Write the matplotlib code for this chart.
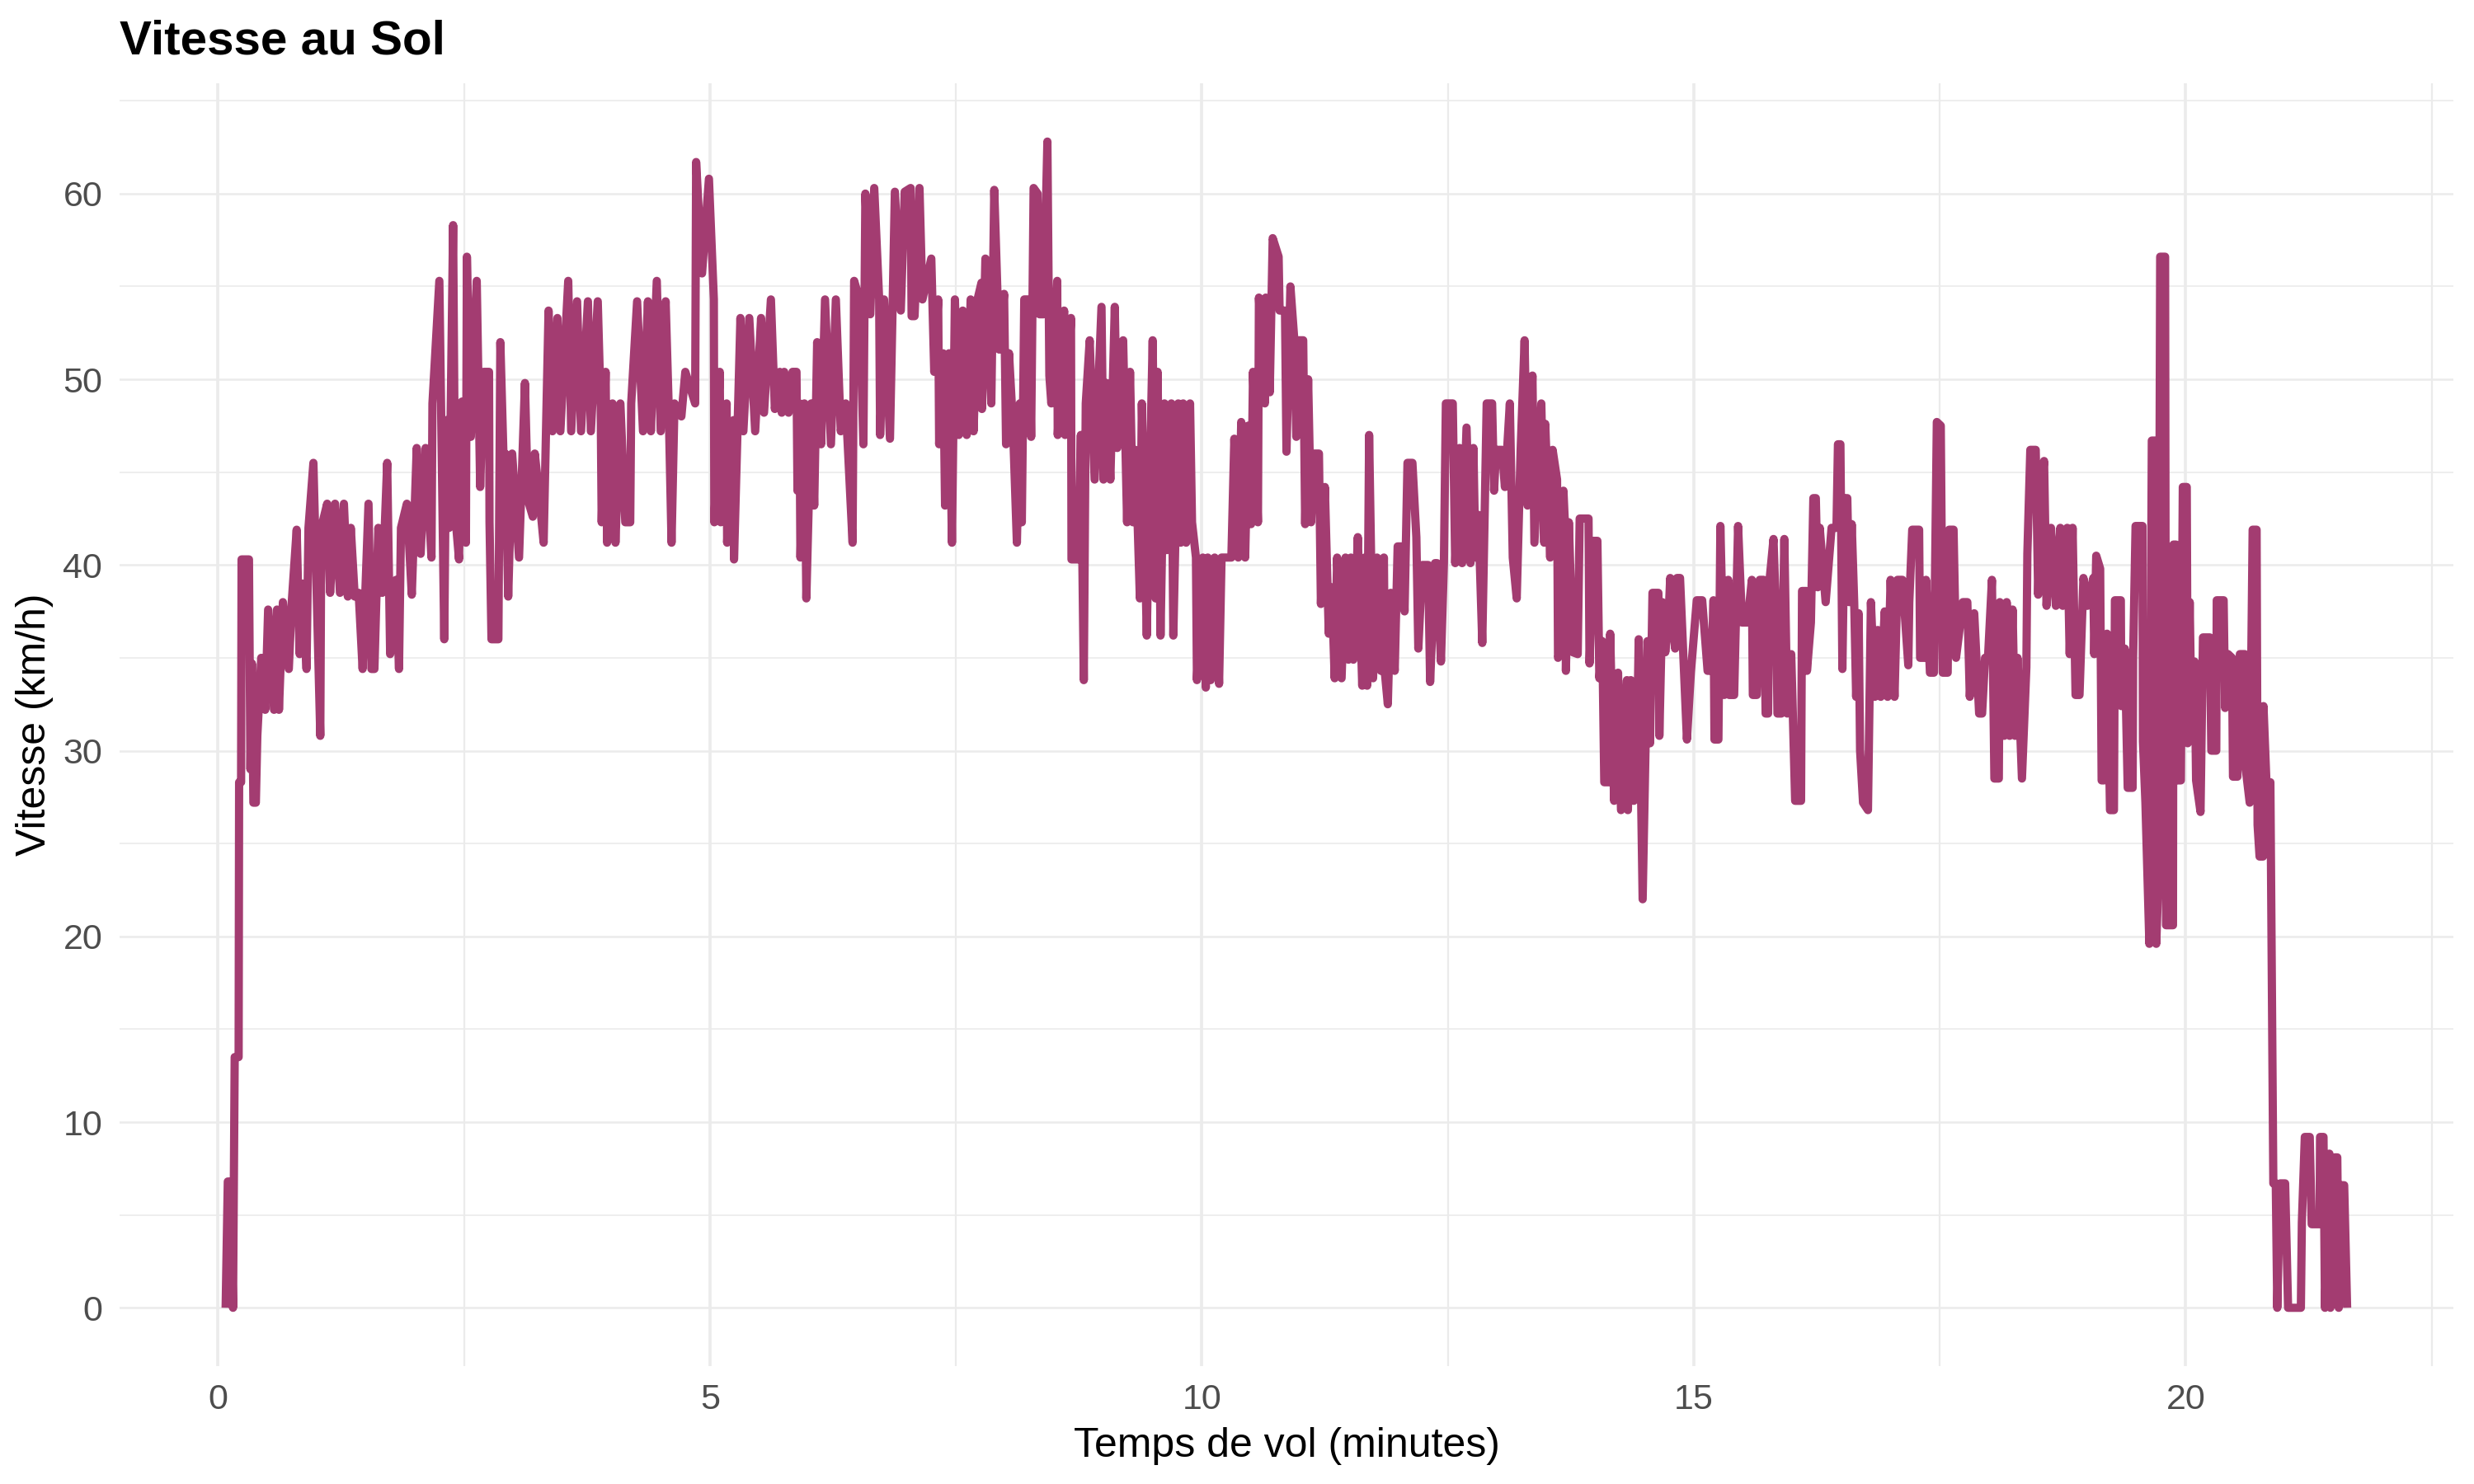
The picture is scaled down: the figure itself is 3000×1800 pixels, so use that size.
import matplotlib
matplotlib.use("Agg")
import matplotlib.pyplot as plt
from matplotlib.ticker import MultipleLocator

plt.rcParams["font.family"] = ["Liberation Sans", "DejaVu Sans"]

# temps de vol (minutes) / vitesse au sol (km/h)
temps = [
    0.078, 0.10, 0.128, 0.153, 0.17, 0.21, 0.215, 0.235, 0.24, 0.315, 0.33, 0.345, 0.36, 0.385,
    0.40, 0.44, 0.48, 0.51, 0.57, 0.60, 0.62, 0.66, 0.72, 0.75, 0.80, 0.83, 0.86, 0.90, 0.92,
    0.97, 1.04, 1.05, 1.11, 1.14, 1.19, 1.24, 1.28, 1.32, 1.35, 1.39, 1.43, 1.47, 1.53, 1.56,
    1.59, 1.63, 1.67, 1.72, 1.75, 1.81, 1.84, 1.86, 1.92, 1.97, 2.02, 2.06, 2.11, 2.17, 2.18,
    2.25, 2.30, 2.32, 2.35, 2.39, 2.41, 2.45, 2.48, 2.52, 2.53, 2.57, 2.63, 2.665, 2.70, 2.755,
    2.76, 2.78, 2.85, 2.87, 2.91, 2.92, 2.95, 2.99, 3.06, 3.12, 3.15, 3.20, 3.22, 3.26, 3.31,
    3.36, 3.40, 3.45, 3.48, 3.56, 3.59, 3.65, 3.69, 3.76, 3.79, 3.86, 3.89, 3.90, 3.94, 3.955,
    4.01, 4.04, 4.09, 4.14, 4.19, 4.20, 4.26, 4.32, 4.37, 4.40, 4.46, 4.50, 4.55, 4.58, 4.61,
    4.64, 4.71, 4.75, 4.85, 4.86, 4.92, 4.99, 5.04, 5.045, 5.10, 5.11, 5.17, 5.175, 5.24, 5.245,
    5.28, 5.31, 5.34, 5.40, 5.46, 5.52, 5.55, 5.62, 5.66, 5.71, 5.73, 5.755, 5.80, 5.84, 5.88,
    5.89, 5.91, 5.92, 5.96, 5.98, 6.03, 6.06, 6.09, 6.13, 6.17, 6.23, 6.28, 6.33, 6.38, 6.45,
    6.466, 6.52, 6.56, 6.58, 6.63, 6.67, 6.72, 6.73, 6.77, 6.83, 6.88, 6.94, 6.98, 7.04, 7.05,
    7.08, 7.13, 7.16, 7.25, 7.28, 7.32, 7.33, 7.37, 7.39, 7.43, 7.46, 7.49, 7.53, 7.57, 7.61,
    7.65, 7.68, 7.72, 7.76, 7.765, 7.80, 7.86, 7.89, 7.94, 7.99, 8.01, 8.04, 8.08, 8.12, 8.15,
    8.17, 8.195, 8.24, 8.265, 8.29, 8.33, 8.35, 8.39, 8.43, 8.45, 8.47, 8.53, 8.535, 8.60, 8.61,
    8.67, 8.675, 8.74, 8.77, 8.80, 8.82, 8.86, 8.91, 8.98, 9.00, 9.03, 9.07, 9.115, 9.14, 9.20,
    9.24, 9.27, 9.30, 9.325, 9.37, 9.39, 9.44, 9.46, 9.50, 9.53, 9.55, 9.58, 9.62, 9.645, 9.69,
    9.71, 9.76, 9.785, 9.81, 9.84, 9.88, 9.90, 9.94, 9.95, 10.01, 10.04, 10.06, 10.09, 10.13, 10.175,
    10.20, 10.30, 10.33, 10.37, 10.40, 10.44, 10.47, 10.50, 10.52, 10.57, 10.58, 10.64, 10.65, 10.69, 10.72,
    10.78, 10.79, 10.845, 10.86, 10.90, 10.94, 10.96, 10.985, 11.03, 11.05, 11.08, 11.11, 11.14, 11.19, 11.21,
    11.25, 11.29, 11.32, 11.35, 11.375, 11.42, 11.46, 11.49, 11.515, 11.54, 11.585, 11.63, 11.655, 11.68, 11.70,
    11.74, 11.78, 11.82, 11.85, 11.86, 11.89, 11.92, 11.96, 11.99, 12.04, 12.06, 12.09, 12.14, 12.18, 12.20,
    12.24, 12.30, 12.32, 12.37, 12.39, 12.43, 12.46, 12.48, 12.55, 12.575, 12.62, 12.645, 12.69, 12.73, 12.76,
    12.78, 12.81, 12.85, 12.895, 12.95, 12.97, 12.99, 13.05, 13.08, 13.13, 13.16, 13.20, 13.24, 13.28, 13.31,
    13.36, 13.38, 13.45, 13.48, 13.49, 13.54, 13.565, 13.61, 13.62, 13.65, 13.675, 13.69, 13.70, 13.73, 13.77,
    13.82, 13.84, 13.93, 13.94, 13.98, 14.02, 14.04, 14.07, 14.09, 14.14, 14.15, 14.19, 14.23, 14.26, 14.32,
    14.33, 14.36, 14.39, 14.415, 14.44, 14.48, 14.53, 14.555, 14.58, 14.64, 14.65, 14.68, 14.71, 14.74, 14.76,
    14.81, 14.83, 14.86, 14.93, 14.97, 15.03, 15.085, 15.14, 15.18, 15.20, 15.21, 15.25, 15.27, 15.31, 15.35,
    15.36, 15.41, 15.45, 15.49, 15.545, 15.59, 15.60, 15.64, 15.67, 15.71, 15.73, 15.755, 15.77, 15.81, 15.84,
    15.85, 15.89, 15.92, 15.95, 15.99, 16.03, 16.09, 16.10, 16.145, 16.15, 16.19, 16.215, 16.24, 16.26, 16.28,
    16.34, 16.40, 16.45, 16.465, 16.49, 16.51, 16.535, 16.56, 16.58, 16.605, 16.63, 16.65, 16.675, 16.69, 16.72,
    16.77, 16.80, 16.84, 16.87, 16.90, 16.94, 16.97, 17.00, 17.04, 17.07, 17.12, 17.18, 17.19, 17.22, 17.29,
    17.30, 17.345, 17.36, 17.40, 17.44, 17.47, 17.51, 17.53, 17.58, 17.595, 17.64, 17.665, 17.735, 17.78, 17.805,
    17.85, 17.90, 17.93, 17.96, 17.99, 18.03, 18.055, 18.10, 18.11, 18.155, 18.18, 18.21, 18.24, 18.265, 18.29,
    18.335, 18.38, 18.39, 18.42, 18.475, 18.50, 18.53, 18.56, 18.585, 18.63, 18.68, 18.725, 18.75, 18.795, 18.82,
    18.85, 18.88, 18.92, 18.96, 19.00, 19.06, 19.07, 19.09, 19.13, 19.145, 19.17, 19.20, 19.23, 19.27, 19.28,
    19.34, 19.345, 19.38, 19.41, 19.46, 19.465, 19.49, 19.56, 19.565, 19.59, 19.63, 19.655, 19.685, 19.70, 19.72,
    19.74, 19.79, 19.80, 19.87, 19.875, 19.90, 19.91, 19.95, 19.97, 20.01, 20.02, 20.04, 20.06, 20.09, 20.105,
    20.15, 20.175, 20.245, 20.26, 20.31, 20.315, 20.385, 20.40, 20.43, 20.47, 20.48, 20.525, 20.54, 20.55, 20.60,
    20.61, 20.65, 20.68, 20.72, 20.73, 20.75, 20.785, 20.79, 20.82, 20.86, 20.89, 20.915, 20.93, 20.96, 21.01,
    21.04, 21.17, 21.18, 21.21, 21.26, 21.28, 21.36, 21.365, 21.40, 21.415, 21.46, 21.47, 21.515, 21.54, 21.555,
    21.58, 21.61, 21.64,
]
vitesse = [
    0, 6.8, 6.8, 0, 13.5, 13.5, 28.3, 28.3, 40.3, 40.3, 29.0, 34.7, 27.2, 27.2,
    30.8, 35.0, 32.2, 37.6, 32.2, 37.6, 32.2, 38.0, 34.4, 38.0, 41.9, 35.2, 39.0, 34.4, 42.0,
    45.5, 30.8, 42.0, 43.3, 38.5, 43.3, 38.5, 43.3, 38.3, 42.0, 38.3, 38.5, 34.4, 43.3, 34.4,
    34.4, 42.0, 38.5, 45.5, 35.2, 39.2, 34.4, 42.0, 43.3, 38.4, 46.3, 40.6, 46.3, 40.4, 48.7,
    55.3, 36.0, 47.8, 42.0, 58.3, 42.8, 40.3, 48.8, 41.2, 56.6, 46.9, 55.3, 44.2, 50.4, 50.4,
    42.3, 36.0, 36.0, 52.0, 44.3, 46.0, 38.3, 46.0, 40.4, 49.8, 43.5, 42.6, 46.0, 44.0, 41.2,
    53.7, 47.2, 53.3, 47.2, 55.3, 47.2, 54.2, 47.2, 54.2, 47.2, 54.2, 48.5, 42.3, 50.4, 41.2,
    48.7, 41.2, 48.7, 42.3, 42.3, 48.7, 54.2, 47.2, 54.2, 47.2, 55.3, 47.2, 54.2, 48.7, 41.2,
    48.7, 48.0, 50.4, 48.7, 61.7, 55.7, 60.8, 54.3, 42.3, 50.4, 42.3, 48.7, 41.2, 47.8, 40.3,
    47.2, 53.3, 47.2, 53.3, 47.2, 53.3, 48.2, 54.3, 48.4, 50.4, 48.2, 50.4, 48.2, 50.4, 50.4,
    44.0, 48.7, 40.4, 48.7, 38.2, 48.7, 43.2, 52.0, 46.5, 54.3, 46.5, 54.3, 47.2, 48.7, 41.2,
    55.3, 54.3, 46.5, 60.0, 53.5, 60.3, 54.3, 47.0, 54.3, 46.8, 60.1, 53.7, 60.1, 60.3, 53.4,
    53.4, 60.3, 54.3, 56.5, 50.4, 54.3, 46.5, 51.4, 43.2, 51.4, 41.2, 54.3, 47.0, 53.7, 47.0,
    54.3, 47.2, 54.3, 55.2, 48.4, 56.5, 48.7, 60.2, 51.6, 54.6, 46.5, 51.4, 47.5, 41.2, 48.7,
    42.3, 54.3, 54.3, 46.9, 60.3, 60.0, 53.5, 53.5, 62.8, 50.2, 48.7, 55.3, 47.0, 53.7, 47.0,
    53.3, 40.3, 40.3, 47.0, 33.8, 48.7, 52.1, 44.6, 53.9, 44.6, 49.8, 44.6, 53.9, 46.3, 52.1,
    42.3, 50.4, 42.3, 46.2, 38.2, 48.7, 36.2, 42.0, 52.1, 38.2, 50.4, 36.2, 48.7, 40.8, 48.7,
    36.2, 48.7, 41.2, 48.7, 41.2, 48.7, 42.3, 40.4, 33.8, 40.4, 33.4, 40.4, 33.8, 40.4, 33.6,
    40.4, 40.4, 46.8, 40.4, 47.7, 40.4, 47.5, 42.2, 50.4, 42.3, 54.4, 48.7, 54.4, 49.3, 57.6,
    56.6, 53.7, 53.7, 46.1, 55.0, 52.1, 46.9, 52.1, 52.1, 42.2, 50.0, 42.3, 46.0, 46.0, 37.9,
    44.2, 36.3, 38.8, 33.9, 40.4, 33.9, 40.4, 34.9, 40.4, 34.9, 41.5, 33.5, 40.4, 33.5, 47.0,
    33.9, 40.4, 34.3, 40.4, 34.2, 32.5, 38.5, 34.3, 41.0, 41.0, 37.5, 45.5, 45.5, 41.5, 35.5,
    40.0, 40.0, 33.7, 40.1, 40.1, 34.8, 40.1, 48.7, 48.7, 40.1, 46.3, 40.1, 47.4, 40.1, 46.3,
    40.4, 42.7, 35.8, 48.7, 48.7, 44.0, 46.2, 46.2, 44.2, 48.7, 40.4, 38.2, 46.2, 52.1, 43.2,
    50.2, 41.2, 48.7, 41.2, 47.6, 40.4, 46.2, 44.6, 35.0, 35.5, 44.0, 42.2, 34.3, 42.3, 35.3,
    35.2, 42.5, 42.5, 34.7, 41.3, 41.3, 33.9, 35.9, 28.3, 28.3, 36.3, 27.3, 34.2, 26.8, 33.8,
    26.8, 33.8, 27.3, 28.0, 36.0, 22.0, 35.9, 30.4, 38.5, 38.5, 30.8, 38.0, 35.3, 36.8, 39.3,
    35.5, 39.3, 39.3, 30.6, 34.2, 38.1, 38.1, 34.3, 34.3, 38.1, 30.6, 30.6, 42.1, 33.0, 39.2,
    33.0, 33.0, 42.1, 36.9, 36.9, 39.2, 33.0, 33.0, 39.2, 39.2, 32.0, 32.0, 39.2, 41.4, 36.6,
    32.0, 32.0, 41.4, 32.0, 35.2, 27.3, 27.3, 38.6, 38.6, 34.3, 36.9, 43.6, 43.6, 38.8, 42.0,
    38.0, 42.0, 42.0, 46.5, 46.5, 34.4, 43.6, 43.6, 38.0, 42.2, 38.0, 32.9, 37.4, 30.0, 27.2,
    26.8, 38.0, 32.9, 36.5, 32.9, 37.5, 32.9, 39.2, 32.9, 39.2, 39.2, 34.6, 38.0, 41.9, 41.9,
    35.0, 35.0, 39.2, 34.2, 34.2, 47.7, 47.5, 34.2, 34.2, 41.9, 41.9, 35.0, 38.0, 38.0, 32.9,
    37.4, 32.0, 32.0, 35.0, 35.0, 39.2, 28.5, 28.5, 38.0, 30.8, 38.0, 30.8, 37.6, 30.8, 35.0,
    28.5, 34.5, 40.6, 46.2, 46.2, 38.4, 44.0, 45.6, 37.8, 42.0, 37.8, 42.0, 37.8, 42.0, 35.2,
    42.0, 33.0, 33.0, 39.3, 37.8, 39.3, 35.2, 40.5, 39.8, 28.4, 28.4, 36.3, 26.8, 26.8, 38.1,
    38.1, 32.4, 35.5, 28.0, 28.0, 35.0, 42.1, 42.1, 30.5, 27.2, 19.6, 46.7, 46.7, 19.6, 22.7,
    56.6, 56.6, 20.6, 20.6, 41.1, 41.1, 28.4, 28.4, 44.2, 44.2, 30.4, 38.0, 30.8, 34.8, 28.4,
    26.7, 36.1, 36.1, 30.0, 30.0, 38.1, 38.1, 32.3, 35.2, 35.0, 28.6, 28.6, 32.3, 35.2, 35.2,
    29.0, 27.2, 41.9, 41.9, 26.0, 24.3, 24.3, 32.4, 28.3, 28.3, 6.7, 6.7, 0, 6.7, 6.7,
    0, 0, 4.6, 9.2, 9.2, 4.5, 4.5, 9.2, 9.2, 0, 8.3, 0, 8.1, 8.1, 0,
    6.6, 6.6, 0,
]

couleur = "#A33C71"
gris_grille = "#EBEBEB"

fig = plt.figure(figsize=(15, 9), dpi=200)
ax = fig.add_axes([145 / 3000, 1 - 1657 / 1800, 2830 / 3000, 1556 / 1800])

ax.plot(temps, vitesse, color=couleur, linewidth=3.6,
        solid_joinstyle="round", solid_capstyle="butt", zorder=3)

ax.set_xlim(-1.0, 22.72)
ax.set_ylim(-3.14, 65.94)
ax.xaxis.set_major_locator(MultipleLocator(5))
ax.xaxis.set_minor_locator(MultipleLocator(2.5))
ax.yaxis.set_major_locator(MultipleLocator(10))
ax.yaxis.set_minor_locator(MultipleLocator(5))

ax.xaxis.grid(True, which="major", color=gris_grille, linewidth=1.3)
ax.xaxis.grid(True, which="minor", color=gris_grille, linewidth=0.8)
ax.yaxis.grid(True, which="major", color=gris_grille, linewidth=0.9)
ax.yaxis.grid(True, which="minor", color=gris_grille, linewidth=0.6)
ax.set_axisbelow(True)

for s in ax.spines.values():
    s.set_visible(False)
ax.tick_params(which="both", length=0, labelsize=15.5, labelcolor="#4D4D4D", pad=7.5)

fig.text(145 / 3000, 1 - 65 / 1800, "Vitesse au Sol", fontsize=21, fontweight="bold",
         ha="left", va="baseline")
fig.text(1560 / 3000, 1 - 1767 / 1800, "Temps de vol (minutes)", fontsize=18,
         ha="center", va="baseline")
fig.text(42 / 3000, 1 - 879 / 1800, "Vitesse (km/h)", fontsize=18,
         ha="center", va="center", rotation=90)

fig.savefig("out.png", dpi=200, facecolor="white")
